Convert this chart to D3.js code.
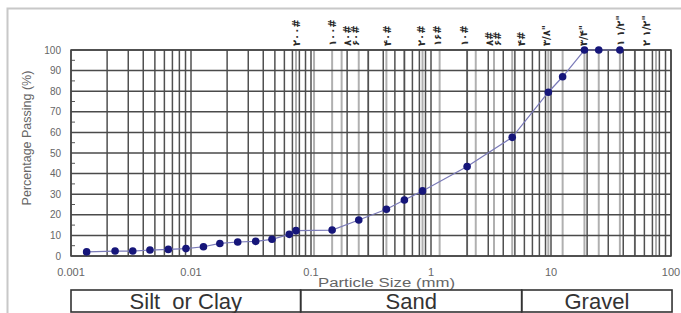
<!DOCTYPE html>
<html><head><meta charset="utf-8">
<script src="https://cdn.jsdelivr.net/npm/d3@7/dist/d3.min.js"></script>
<style>html,body{margin:0;padding:0;background:#fff;}svg{display:block;font-family:"Liberation Sans",Arial,"DejaVu Sans",sans-serif;}</style>
</head><body><svg id="c" width="681" height="313"></svg>
<script>
// ---- data ----
const sizes   = [0.00135,0.00233,0.00327,0.00455,0.00647,0.00908,0.0127,0.0174,0.0245,0.0346,0.0473,0.0659,0.075,0.15,0.25,0.425,0.6,0.85,2.0,4.75,9.5,12.5,19,25,37.5];
const passing = [2,2.4,2.4,2.9,3.2,3.6,4.5,6.1,6.8,7.1,8.1,10.5,12.3,12.6,17.5,22.7,27.2,31.6,43.4,57.6,79.5,87,100,100,100];
const xTicks = [0.001,0.01,0.1,1,10,100];
const xTickLabels = ["0.001","0.01","0.1","1","10","100"];
const yTicks = [0,10,20,30,40,50,60,70,80,90,100];
const sieveLines = [0.075,0.106,0.15,0.18,0.25,0.3,0.425,0.6,0.85,1.18,2.0,2.36,3.35,4.75,9.5,12.5,19,25,37.5,50,75];
const sieveLabelSizes = [0.075,0.15,0.2,0.233,0.43,0.84,1.14,1.92,3.1,3.6,5.7,9.26,18.5,37.6,63];
const sieveLabels = ["۲۰۰#","۱۰۰#","۸۰#","۶۰#","۴۰#","۲۰#","۱۶#","۱۰#","۸#","۶#","۴#","۳/۸\"","۳/۴\"","۱ ۱/۲\"","۲ ۱/۲\""];
const soilClasses = ["Silt  or Clay","Sand","Gravel"];
const soilBounds = [0.001,0.082,5.7,102];

// ---- layout ----
const svg = d3.select("#c");
const L=71, R=671, T=50, B=256;
const x = d3.scaleLog().domain([0.001,100]).range([L,R]);
const y = d3.scaleLinear().domain([0,100]).range([B,T]);

// frame
svg.append("path").attr("d","M7.5,313V8.5H681").attr("fill","none").attr("stroke","#c8c8c8").attr("stroke-width",2);

// vertical log grid
const minor=[];
for(let e=-3;e<2;e++){for(let m=1;m<10;m++){minor.push(m*Math.pow(10,e));}}
minor.push(100);
svg.append("g").selectAll("line.s").data(sieveLines).join("line")
  .attr("x1",d=>x(d)).attr("x2",d=>x(d)).attr("y1",T).attr("y2",B)
  .attr("stroke","#b0b0b0").attr("stroke-width",2);
svg.append("g").selectAll("line").data(minor).join("line")
  .attr("x1",d=>x(d)).attr("x2",d=>x(d)).attr("y1",T).attr("y2",B)
  .attr("stroke","#505050").attr("stroke-width",1.5);
// horizontal grid
svg.append("g").selectAll("line").data(yTicks).join("line")
  .attr("x1",L).attr("x2",R).attr("y1",d=>y(d)).attr("y2",d=>y(d))
  .attr("stroke","#4a4a4a").attr("stroke-width",1.5);
// minor y ticks
svg.append("g").selectAll("line").data(d3.range(5,100,10)).join("line")
  .attr("x1",L).attr("x2",L+4).attr("y1",d=>y(d)).attr("y2",d=>y(d))
  .attr("stroke","#555").attr("stroke-width",1);
svg.append("rect").attr("x",L).attr("y",T).attr("width",R-L).attr("height",B-T)
  .attr("fill","none").attr("stroke","#444").attr("stroke-width",1.5);

// y labels
svg.append("g").selectAll("text").data(yTicks).join("text")
  .attr("x",61).attr("y",d=>y(d)+3.5).attr("text-anchor","end")
  .attr("font-size",10).attr("fill","#666").text(d=>d);
svg.append("text").attr("transform","translate(31,138) rotate(-90)").attr("text-anchor","middle")
  .attr("font-size",12.5).attr("fill","#666").text("Percentage  Passing (%)");

// x labels
svg.append("g").selectAll("text").data(xTicks).join("text")
  .attr("x",d=>x(d)).attr("y",276).attr("text-anchor","middle")
  .attr("font-size",11).attr("fill","#666").text((d,i)=>xTickLabels[i]);
svg.append("text").attr("x",318).attr("y",287).attr("font-size",12.5).attr("fill","#666")
  .attr("textLength",137).attr("lengthAdjust","spacingAndGlyphs").text("Particle Size (mm)");

// sieve labels (rotated)
svg.append("g").selectAll("text").data(sieveLabelSizes).join("text")
  .attr("transform",d=>`translate(${x(d)+3.5},46) rotate(-90)`)
  .attr("font-size",10).attr("font-weight","bold").attr("fill","#2a2a2a").attr("font-family","DejaVu Sans, sans-serif")
  .text((d,i)=>sieveLabels[i]);

// curve
const pts = sizes.map((s,i)=>[s,passing[i]]);
svg.append("path").datum(pts)
  .attr("d",d3.line().x(d=>x(d[0])).y(d=>y(d[1])))
  .attr("fill","none").attr("stroke","#7a7ab8").attr("stroke-width",1.2);
svg.append("g").selectAll("circle").data(pts).join("circle")
  .attr("cx",d=>x(d[0])).attr("cy",d=>y(d[1])).attr("r",3.8).attr("fill","#16167a");

// soil class boxes
const boxes = soilClasses.map((c,i)=>({c,a:soilBounds[i],b:soilBounds[i+1]}));
const bg = svg.append("g");
bg.selectAll("rect").data(boxes).join("rect")
  .attr("x",d=>x(d.a)).attr("width",d=>x(d.b)-x(d.a)).attr("y",290).attr("height",22)
  .attr("fill","none").attr("stroke","#333").attr("stroke-width",1.6);
bg.selectAll("text").data(boxes).join("text")
  .attr("x",d=>(x(d.a)+x(d.b))/2).attr("y",309).attr("text-anchor","middle")
  .attr("font-size",22).attr("fill","#333").style("white-space","pre").text(d=>d.c);
</script></body></html>
